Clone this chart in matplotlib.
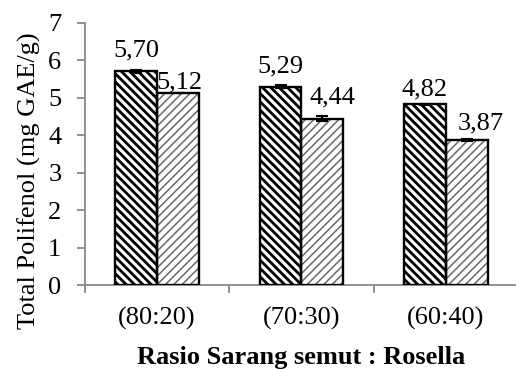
import matplotlib
matplotlib.use("Agg")
import matplotlib.pyplot as plt
import numpy as np

plt.rcParams['font.family'] = ['Liberation Serif', 'DejaVu Serif']

categories = ["(80:20)", "(70:30)", "(60:40)"]
series_a = [5.70, 5.29, 4.82]
series_b = [5.12, 4.44, 3.87]
err_a = [0.04, 0.04, 0.02]
err_b = [0.00, 0.07, 0.02]
labels_a = ["5,70", "5,29", "4,82"]
labels_b = ["5,12", "4,44", "3,87"]
yticks = [0, 1, 2, 3, 4, 5, 6, 7]

# value-label offsets (px) from the top centre of each bar
dx_a = [0, 0, 0]
dy_a = [15, 14, 9]
dx_b = [1, 10, 14]
dy_b = [5, 15, 11]

FS = 19
DPI = 100
fig = plt.figure(figsize=(5.16, 3.69), dpi=DPI)
ax = fig.add_axes([0.1647, 0.2276, 0.839, 0.711])

x = np.arange(len(categories))
w = 0.29


def hatched_bars(pos, vals, hatch, hcolor, hlw):
    plt.rcParams['hatch.linewidth'] = hlw
    bars = ax.bar(pos, vals, w, color='white', edgecolor=hcolor,
                  hatch=hatch, linewidth=0, zorder=2)
    for b in bars:
        if hasattr(b, 'set_hatch_linewidth'):
            b.set_hatch_linewidth(hlw)
    ax.bar(pos, vals, w, fill=False, edgecolor='black', linewidth=1.7, zorder=3)
    return bars


hatched_bars(x - w / 2, series_a, '\\\\\\\\', 'black', 2.0)
hatched_bars(x + w / 2, series_b, '////', '#6a6a6a', 1.1)

ax.errorbar(x - w / 2, series_a, yerr=err_a, fmt='none', ecolor='black',
            elinewidth=1.5, capsize=4.5, capthick=1.5, zorder=4)
ax.errorbar(x + w / 2, series_b, yerr=err_b, fmt='none', ecolor='black',
            elinewidth=1.5, capsize=4.5, capthick=1.5, zorder=4)

px2pt = 72.0 / DPI
for xs, vals, labs, dxs, dys in ((x - w / 2, series_a, labels_a, dx_a, dy_a),
                                 (x + w / 2, series_b, labels_b, dx_b, dy_b)):
    for xi, v, t, dx, dy in zip(xs, vals, labs, dxs, dys):
        ax.annotate(t, (xi, v), xytext=(dx * px2pt, dy * px2pt),
                    textcoords='offset points', ha='center', va='baseline',
                    fontsize=FS, zorder=6)

ax.set_xlim(-0.5, len(categories) - 0.5)
ax.set_ylim(0, 7)
ax.set_yticks(yticks)
ax.set_yticklabels([str(t) for t in yticks], fontsize=FS)

ax.set_xticks(x)
ax.set_xticklabels(categories, fontsize=FS)
ax.tick_params(axis='x', which='major', length=0, pad=16)
ax.set_xticks(np.arange(len(categories) + 1) - 0.5, minor=True)
ax.tick_params(axis='x', which='minor', length=6, width=1.3, color='#888888',
               direction='out')
ax.tick_params(axis='y', length=6, width=1.3, color='#888888', direction='out',
               pad=11)

for s in ['top', 'right']:
    ax.spines[s].set_visible(False)
for s in ['left', 'bottom']:
    ax.spines[s].set_color('#888888')
    ax.spines[s].set_linewidth(1.3)

ax.set_ylabel("Total Polifenol (mg GAE/g)", fontsize=FS)
ax.yaxis.set_label_coords(-0.102, 0.397)
ax.set_xlabel("Rasio Sarang semut : Rosella", fontsize=FS, fontweight='bold',
              labelpad=11)

fig.savefig("out.png", dpi=DPI)
